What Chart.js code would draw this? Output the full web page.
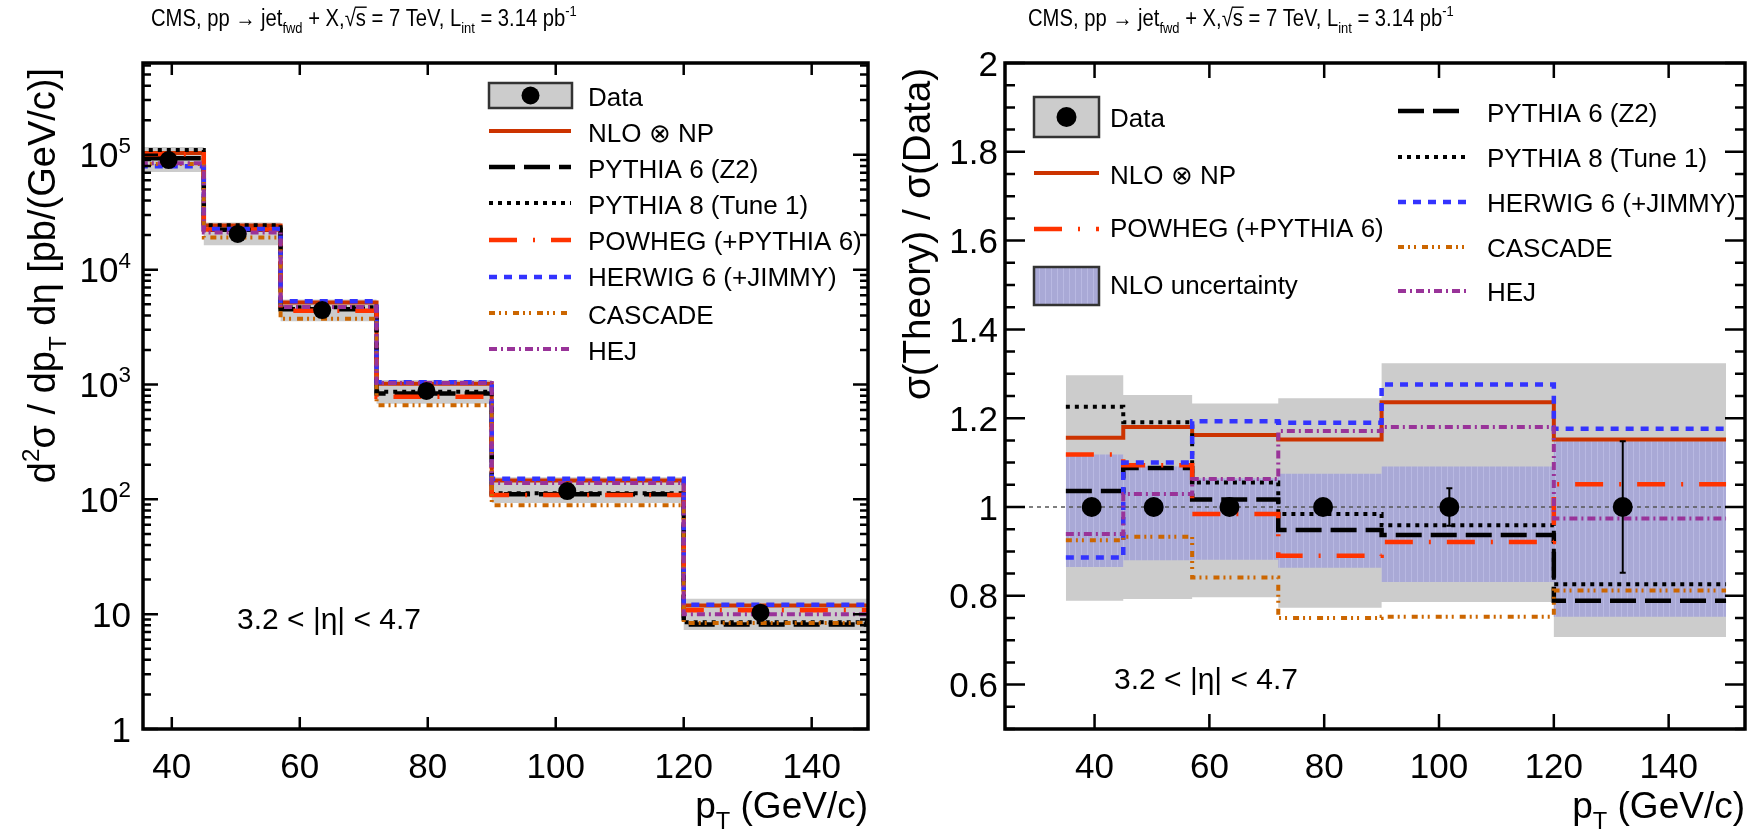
<!DOCTYPE html>
<html>
<head>
<meta charset="utf-8">
<title>CMS forward jet cross section</title>
<script src="https://cdn.jsdelivr.net/npm/chart.js@4.4.1/dist/chart.umd.min.js"></script>
<style>
  html, body { margin: 0; padding: 0; background: #ffffff; }
  #page { position: relative; width: 1755px; height: 834px; overflow: hidden; }
  #page canvas { position: absolute; top: 0; }
  #xsec { left: 0; }
  #ratio { left: 877px; }
</style>
</head>
<body>
<div id="page">
  <canvas id="xsec" width="877" height="834"></canvas>
  <canvas id="ratio" width="878" height="834"></canvas>
</div>
<script>
// ---- pT binning (GeV/c) ----
const binEdges = [35, 45, 57, 72, 90, 120, 150];
const ptMean   = [39.5, 50.3, 63.5, 79.8, 101.8, 132.0];

// ---- d2sigma / dpT deta  [pb/(GeV/c)] ----
const xsData    = [9.0e4, 2.05e4, 4450, 880, 118, 10.3];
const xsDataErr = [1100, 250, 58, 13, 5, 1.5];
const xsSystLo  = [7.10e4, 1.63e4, 3550, 680, 92.7, 7.28];
const xsSystHi  = [1.17e5, 2.57e4, 5490, 1096, 156, 13.6];
const xsNlo     = [1.04e5, 2.42e4, 5170, 1014, 146, 11.9];
const xsPythia6 = [9.32e4, 2.23e4, 4530, 834, 111, 8.13];
const xsPythia8 = [1.10e5, 2.44e4, 4700, 866, 113, 8.51];
const xsPowheg  = [1.01e5, 2.24e4, 4380, 783, 109, 10.8];
const xsHerwig  = [7.97e4, 2.26e4, 5310, 1047, 151, 12.1];
const xsCascade = [8.33e4, 1.91e4, 3740, 660, 88.9, 8.36];
const xsHej     = [8.45e4, 2.11e4, 4730, 1030, 139, 10.0];

// ---- sigma(theory) / sigma(data) ----
const ratioData    = [1, 1, 1, 1, 1, 1];
const ratioDataErr = [0.012, 0.012, 0.013, 0.015, 0.042, 0.148];
const ratioSystLo  = [0.789, 0.793, 0.797, 0.773, 0.786, 0.707];
const ratioSystHi  = [1.297, 1.252, 1.233, 1.245, 1.324, 1.324];
const ratioNloLo   = [0.865, 0.880, 0.881, 0.863, 0.831, 0.753];
const ratioNloHi   = [1.118, 1.091, 1.065, 1.075, 1.091, 1.148];
const ratioNlo     = [1.156, 1.180, 1.162, 1.152, 1.236, 1.152];
const ratioPythia6 = [1.036, 1.088, 1.017, 0.948, 0.937, 0.789];
const ratioPythia8 = [1.226, 1.191, 1.055, 0.984, 0.959, 0.826];
const ratioPowheg  = [1.118, 1.094, 0.984, 0.890, 0.921, 1.051];
const ratioHerwig  = [0.886, 1.100, 1.193, 1.190, 1.276, 1.176];
const ratioCascade = [0.925, 0.933, 0.841, 0.750, 0.753, 0.812];
const ratioHej     = [0.939, 1.029, 1.063, 1.171, 1.180, 0.974];

// ---- axis ticks ----
const ptTicks         = [40, 60, 80, 100, 120, 140];
const ptTickLabels    = ['40', '60', '80', '100', '120', '140'];
const xsTicks         = [1, 10, 100, 1e3, 1e4, 1e5];
const xsTickLabels    = ['1', '10', '10^{2}', '10^{3}', '10^{4}', '10^{5}'];
const ratioTicks      = [0.6, 0.8, 1, 1.2, 1.4, 1.6, 1.8, 2];
const ratioTickLabels = ['0.6', '0.8', '1', '1.2', '1.4', '1.6', '1.8', '2'];

// ---- text ----
const titleText   = 'CMS, pp → jet_{fwd} + X,√{s} = 7 TeV, L_{int} = 3.14 pb^{-1}';
const etaRange    = '3.2 < |η| < 4.7';
const xTitle      = 'p_{T} (GeV/c)';
const xsYTitle    = 'd^{2}σ / dp_{T} dη [pb/(GeV/c)]';
const ratioYTitle = 'σ(Theory) / σ(Data)';

// ---- generator line styles ----
const models = {
  nlo:     { label: 'NLO ⊗ NP',            color: '#cc3300', width: 4,   dash: [] },
  pythia6: { label: 'PYTHIA 6 (Z2)',       color: '#000000', width: 4.5, dash: [26, 9] },
  pythia8: { label: 'PYTHIA 8 (Tune 1)',   color: '#000000', width: 4,   dash: [4, 5] },
  powheg:  { label: 'POWHEG (+PYTHIA 6)',  color: '#ff3300', width: 4.5, dash: [28, 16, 2, 16] },
  herwig:  { label: 'HERWIG 6 (+JIMMY)',   color: '#3333ff', width: 4.5, dash: [8, 7] },
  cascade: { label: 'CASCADE',             color: '#cc6600', width: 4,   dash: [6, 4, 2, 4, 2, 6] },
  hej:     { label: 'HEJ',                 color: '#993399', width: 4,   dash: [8, 4, 2, 4] }
};
const drawOrder = ['hej', 'cascade', 'herwig', 'powheg', 'pythia8', 'pythia6', 'nlo'];

const FONT = '"Liberation Sans", Arial, Helvetica, sans-serif';
const SYST_GREY = '#cccccc';

// vertical-hatched lavender fill used for the NLO scale/PDF band
function makeHatch() {
  const c = document.createElement('canvas');
  c.width = 6; c.height = 4;
  const g = c.getContext('2d');
  g.fillStyle = '#a9a9d6';
  g.fillRect(0, 0, 6, 4);
  g.fillStyle = '#b9b9e2';
  g.fillRect(0, 0, 1, 4);
  return g.createPattern(c, 'repeat');
}
const NLO_HATCH = makeHatch();

// ---- rich text: _{sub}, ^{sup}, √{x} ----
function parseRich(s) {
  const out = [];
  const re = /(_\{[^}]*\}|\^\{[^}]*\}|√\{[^}]*\})/g;
  let last = 0, m;
  while ((m = re.exec(s))) {
    if (m.index > last) out.push({ t: s.slice(last, m.index), k: 'n' });
    const tok = m[0];
    const k = tok[0] === '_' ? 'sub' : tok[0] === '^' ? 'sup' : 'sqrt';
    out.push({ t: tok.slice(2, -1), k });
    last = re.lastIndex;
  }
  if (last < s.length) out.push({ t: s.slice(last), k: 'n' });
  return out;
}

function drawRich(ctx, str, x, y, size, opt = {}) {
  const parts = parseRich(str);
  const small = size * 0.64;
  const segs = [];
  let w = 0;
  for (const p of parts) {
    if (p.k === 'sqrt') {
      ctx.font = `${size}px ${FONT}`;
      const wr = ctx.measureText('√').width;
      const wt = ctx.measureText(p.t).width;
      segs.push({ t: '√', s: size, dy: 0, x: w });
      w += wr;
      segs.push({ t: p.t, s: size, dy: 0, x: w, over: [w - 1, w + wt + 1] });
      w += wt;
    } else {
      const s = p.k === 'n' ? size : small;
      ctx.font = `${s}px ${FONT}`;
      const wt = ctx.measureText(p.t).width;
      const dy = p.k === 'sub' ? size * 0.3 : p.k === 'sup' ? -size * 0.42 : 0;
      segs.push({ t: p.t, s, dy, x: w });
      w += wt;
    }
  }
  ctx.save();
  ctx.translate(x, y);
  if (opt.rotate) ctx.rotate(opt.rotate);
  if (opt.hs) ctx.scale(opt.hs, 1);
  const x0 = opt.align === 'right' ? -w : opt.align === 'center' ? -w / 2 : 0;
  ctx.fillStyle = opt.color || '#000';
  ctx.strokeStyle = opt.color || '#000';
  ctx.textAlign = 'left';
  ctx.textBaseline = 'alphabetic';
  for (const s of segs) {
    ctx.font = `${s.s}px ${FONT}`;
    ctx.fillText(s.t, x0 + s.x, s.dy);
    if (s.over) {
      ctx.lineWidth = Math.max(1, size * 0.06);
      ctx.beginPath();
      ctx.moveTo(x0 + s.over[0], -size * 0.8);
      ctx.lineTo(x0 + s.over[1], -size * 0.8);
      ctx.stroke();
    }
  }
  ctx.restore();
  return w;
}

// ---- dataset builders ----
function histPoints(values) {
  return binEdges.map((e, i) => ({ x: e, y: values[Math.min(i, values.length - 1)] }));
}
function markerPoints(values) {
  return ptMean.map((x, i) => ({ x, y: values[i] }));
}
function lineDataset(key, values, order) {
  const m = models[key];
  return {
    label: m.label, data: histPoints(values), stepped: true,
    borderColor: m.color, borderWidth: m.width, borderDash: m.dash,
    borderCapStyle: 'butt', borderJoinStyle: 'miter',
    pointRadius: 0, fill: false, order, clip: 0
  };
}
function bandDatasets(lo, hi, color, order) {
  return [
    { label: 'band-lo', data: histPoints(lo), stepped: true, borderWidth: 0,
      borderColor: 'rgba(0,0,0,0)', pointRadius: 0, fill: false, order, clip: 0 },
    { label: 'band-hi', data: histPoints(hi), stepped: true, borderWidth: 0,
      borderColor: 'rgba(0,0,0,0)', pointRadius: 0, fill: '-1', backgroundColor: color, order, clip: 0 }
  ];
}
function dataDataset(values, errors, radius) {
  return {
    label: 'Data', data: markerPoints(values), errors, showLine: false,
    pointRadius: radius, pointBackgroundColor: '#000', pointBorderColor: '#000',
    pointBorderWidth: 0, order: 0, clip: false
  };
}

// statistical error bars under the data markers
const errorBars = {
  id: 'errorBars',
  beforeDatasetDraw(chart, args) {
    const ds = chart.data.datasets[args.index];
    if (!ds.errors) return;
    const { ctx } = chart;
    const sx = chart.scales.x, sy = chart.scales.y;
    ctx.save();
    ctx.strokeStyle = '#000';
    ctx.lineWidth = 2;
    ds.data.forEach((p, i) => {
      const px = sx.getPixelForValue(p.x);
      const lo = sy.getPixelForValue(p.y - ds.errors[i]);
      const hi = sy.getPixelForValue(p.y + ds.errors[i]);
      ctx.beginPath();
      ctx.moveTo(px, lo); ctx.lineTo(px, hi);
      ctx.moveTo(px - 3, lo); ctx.lineTo(px + 3, lo);
      ctx.moveTo(px - 3, hi); ctx.lineTo(px + 3, hi);
      ctx.stroke();
    });
    ctx.restore();
  }
};

// frame, inward ticks, tick labels, titles, legend
function decorPlugin(spec) {
  return {
    id: 'decor',
    afterDatasetsDraw(chart) {
      const { ctx, chartArea: a } = chart;
      const sx = chart.scales.x, sy = chart.scales.y;
      ctx.save();
      ctx.strokeStyle = '#000';
      ctx.lineCap = 'butt';
      // ticks on all four sides
      ctx.lineWidth = 2.5;
      ctx.beginPath();
      for (const t of spec.yMajor) {
        const py = sy.getPixelForValue(t);
        ctx.moveTo(a.left, py); ctx.lineTo(a.left + spec.yMajLen, py);
        ctx.moveTo(a.right, py); ctx.lineTo(a.right - spec.yMajLen, py);
      }
      for (const t of spec.yMinor) {
        const py = sy.getPixelForValue(t);
        ctx.moveTo(a.left, py); ctx.lineTo(a.left + spec.yMinLen, py);
        ctx.moveTo(a.right, py); ctx.lineTo(a.right - spec.yMinLen, py);
      }
      for (const t of ptTicks) {
        const px = sx.getPixelForValue(t);
        ctx.moveTo(px, a.bottom); ctx.lineTo(px, a.bottom - spec.xMajLen);
        ctx.moveTo(px, a.top); ctx.lineTo(px, a.top + spec.xMajLen);
      }
      ctx.stroke();
      // frame
      ctx.lineWidth = 3.5;
      ctx.strokeRect(a.left, a.top, a.right - a.left, a.bottom - a.top);
      ctx.restore();

      // tick labels
      spec.yTicks.forEach((t, i) => {
        const py = sy.getPixelForValue(t);
        drawRich(ctx, spec.yLabels[i], spec.yLabelRight, py + 0.36 * spec.tickSize, spec.tickSize, { align: 'right' });
      });
      ptTicks.forEach((t, i) => {
        drawRich(ctx, ptTickLabels[i], sx.getPixelForValue(t), spec.xLabelBase, spec.tickSize, { align: 'center' });
      });

      // axis titles and header
      drawRich(ctx, xTitle, a.right, spec.xTitleBase, spec.axisTitleSize, { align: 'right' });
      drawRich(ctx, spec.yTitle, spec.yTitleBase, a.top + 5, spec.yTitleSize, { align: 'right', rotate: -Math.PI / 2 });
      drawRich(ctx, titleText, spec.titleX, 26, 23.5, { hs: 0.86 });
      drawRich(ctx, etaRange, spec.etaX, spec.etaBase, 30);

      // legend
      const L = spec.legend;
      for (const it of L.items) {
        ctx.save();
        if (it.kind === 'data' || it.kind === 'band') {
          const [bx, by, bw, bh] = it.box;
          ctx.fillStyle = it.kind === 'data' ? SYST_GREY : NLO_HATCH;
          ctx.fillRect(bx, by, bw, bh);
          ctx.lineWidth = 2.5;
          ctx.strokeStyle = '#333';
          ctx.strokeRect(bx, by, bw, bh);
          if (it.kind === 'data') {
            ctx.fillStyle = '#000';
            ctx.beginPath();
            ctx.arc(bx + bw / 2, by + bh / 2, spec.markerR, 0, Math.PI * 2);
            ctx.fill();
          }
        } else {
          const m = models[it.key];
          ctx.strokeStyle = m.color;
          ctx.lineWidth = m.width;
          ctx.setLineDash(m.dash);
          ctx.beginPath();
          ctx.moveTo(it.x0, it.y);
          ctx.lineTo(it.x1, it.y);
          ctx.stroke();
        }
        ctx.restore();
        const text = it.text || (it.key ? models[it.key].label : 'Data');
        drawRich(ctx, text, it.tx, it.ty + 0.36 * L.size, L.size);
      }
    }
  };
}

function logMinorTicks(max) {
  const out = [];
  for (let d = 1; d <= 1e5; d *= 10) {
    for (let k = 2; k <= 9; k++) if (d * k <= max) out.push(d * k);
  }
  return out;
}
function linMinorTicks(min, max, step) {
  const out = [];
  for (let v = min; v <= max + 1e-9; v += step) out.push(Math.round(v * 1000) / 1000);
  return out;
}

function baseOptions(padding, xRange, yScale) {
  return {
    responsive: false, animation: false, devicePixelRatio: 1, events: [],
    layout: { padding },
    scales: {
      x: { type: 'linear', min: xRange[0], max: xRange[1], bounds: 'data', display: false },
      y: Object.assign({ display: false, bounds: 'data' }, yScale)
    },
    plugins: { legend: { display: false }, tooltip: { enabled: false } }
  };
}

// ================= left: cross section =================
const xsSeries = { nlo: xsNlo, pythia6: xsPythia6, pythia8: xsPythia8, powheg: xsPowheg,
                   herwig: xsHerwig, cascade: xsCascade, hej: xsHej };
const xsMax = Math.pow(10, 5.8);
const xsDatasets = [
  ...bandDatasets(xsSystLo, xsSystHi, SYST_GREY, 20),
  ...drawOrder.map((k, i) => lineDataset(k, xsSeries[k], i + 1)),
  dataDataset(xsData, xsDataErr, 9)
];
const leftLegendX0 = 489, leftLegendX1 = 571, leftText = 588;
new Chart(document.getElementById('xsec'), {
  type: 'line',
  data: { datasets: xsDatasets },
  options: baseOptions({ left: 143, right: 2, top: 63, bottom: 105 }, [35.5, 148.8],
                       { type: 'logarithmic', min: 1, max: xsMax }),
  plugins: [errorBars, decorPlugin({
    yMajor: xsTicks, yMinor: logMinorTicks(xsMax), yMajLen: 15, yMinLen: 8, xMajLen: 12,
    yTicks: xsTicks, yLabels: xsTickLabels, yLabelRight: 131, tickSize: 35,
    xLabelBase: 778, xTitleBase: 818, axisTitleSize: 37,
    yTitle: xsYTitle, yTitleBase: 55, yTitleSize: 38,
    titleX: 151, etaX: 237, etaBase: 629, markerR: 9,
    legend: {
      size: 26,
      items: [
        { kind: 'data', box: [489, 83, 83, 25], tx: leftText, ty: 97 },
        { kind: 'line', key: 'nlo',     x0: leftLegendX0, x1: leftLegendX1, y: 131, tx: leftText, ty: 133 },
        { kind: 'line', key: 'pythia6', x0: leftLegendX0, x1: leftLegendX1, y: 167, tx: leftText, ty: 169 },
        { kind: 'line', key: 'pythia8', x0: leftLegendX0, x1: leftLegendX1, y: 203, tx: leftText, ty: 205 },
        { kind: 'line', key: 'powheg',  x0: leftLegendX0, x1: leftLegendX1, y: 240, tx: leftText, ty: 241 },
        { kind: 'line', key: 'herwig',  x0: leftLegendX0, x1: leftLegendX1, y: 277, tx: leftText, ty: 277 },
        { kind: 'line', key: 'cascade', x0: leftLegendX0, x1: leftLegendX1, y: 313, tx: leftText, ty: 315 },
        { kind: 'line', key: 'hej',     x0: leftLegendX0, x1: leftLegendX1, y: 349, tx: leftText, ty: 351 }
      ]
    }
  })]
});

// ================= right: theory / data =================
const ratioSeries = { nlo: ratioNlo, pythia6: ratioPythia6, pythia8: ratioPythia8, powheg: ratioPowheg,
                      herwig: ratioHerwig, cascade: ratioCascade, hej: ratioHej };
const ratioXRange = [24.4, 153.3];
const ratioDatasets = [
  ...bandDatasets(ratioSystLo, ratioSystHi, SYST_GREY, 30),
  ...bandDatasets(ratioNloLo, ratioNloHi, NLO_HATCH, 25),
  { label: 'unity', data: [{ x: ratioXRange[0], y: 1 }, { x: ratioXRange[1], y: 1 }],
    borderColor: '#555555', borderWidth: 1.5, borderDash: [4, 4], pointRadius: 0, fill: false, order: 20 },
  ...drawOrder.map((k, i) => lineDataset(k, ratioSeries[k], i + 1)),
  dataDataset(ratioData, ratioDataErr, 10)
];
new Chart(document.getElementById('ratio'), {
  type: 'line',
  data: { datasets: ratioDatasets },
  options: baseOptions({ left: 128, right: 5, top: 63, bottom: 105 }, ratioXRange,
                       { type: 'linear', min: 0.5, max: 2 }),
  plugins: [errorBars, decorPlugin({
    yMajor: ratioTicks, yMinor: linMinorTicks(0.5, 2, 0.05), yMajLen: 20, yMinLen: 10, xMajLen: 15,
    yTicks: ratioTicks, yLabels: ratioTickLabels, yLabelRight: 121, tickSize: 35,
    xLabelBase: 778, xTitleBase: 818, axisTitleSize: 37,
    yTitle: ratioYTitle, yTitleBase: 53, yTitleSize: 38.5,
    titleX: 151, etaX: 237, etaBase: 689, markerR: 10,
    legend: {
      size: 26,
      items: [
        { kind: 'data', box: [157, 97, 65, 40], tx: 233, ty: 118 },
        { kind: 'line', key: 'nlo',    x0: 157, x1: 222, y: 173, tx: 233, ty: 175 },
        { kind: 'line', key: 'powheg', x0: 157, x1: 222, y: 229, tx: 233, ty: 228 },
        { kind: 'band', box: [157, 267, 65, 38], tx: 233, ty: 285, text: 'NLO uncertainty' },
        { kind: 'line', key: 'pythia6', x0: 521, x1: 591, y: 111, tx: 610, ty: 113 },
        { kind: 'line', key: 'pythia8', x0: 521, x1: 591, y: 157, tx: 610, ty: 158 },
        { kind: 'line', key: 'herwig',  x0: 521, x1: 591, y: 202, tx: 610, ty: 203 },
        { kind: 'line', key: 'cascade', x0: 521, x1: 591, y: 247, tx: 610, ty: 248 },
        { kind: 'line', key: 'hej',     x0: 521, x1: 591, y: 291, tx: 610, ty: 292 }
      ]
    }
  })]
});
</script>
</body>
</html>
